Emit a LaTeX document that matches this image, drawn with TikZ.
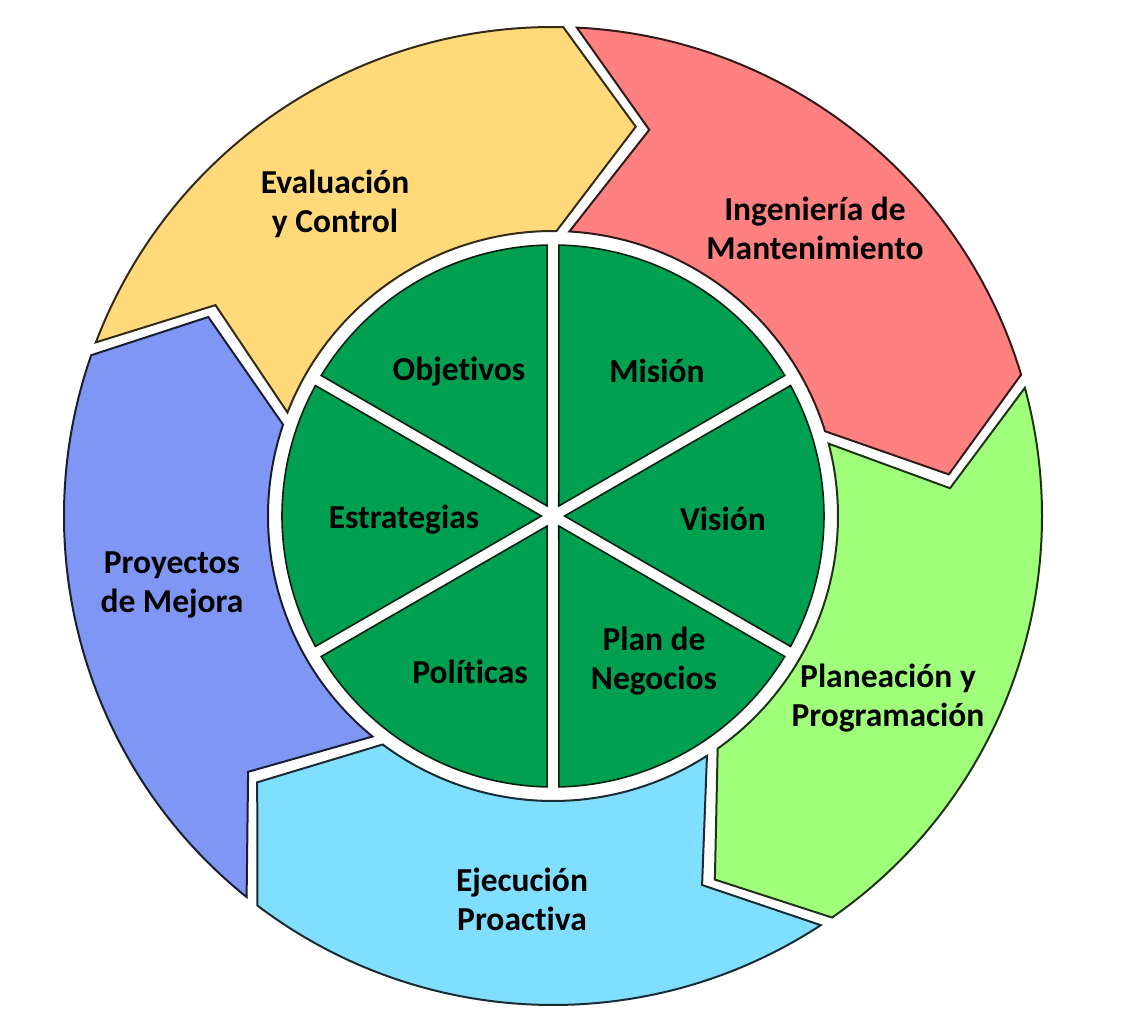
\documentclass[tikz,border=0pt]{standalone}
\usepackage{fontspec}
\setmainfont{Carlito}[Ligatures=NoCommon]
\definecolor{segYellow}{RGB}{255,217,122}
\definecolor{segRed}{RGB}{255,128,128}
\definecolor{segLime}{RGB}{160,255,122}
\definecolor{segCyan}{RGB}{128,222,255}
\definecolor{segBlue}{RGB}{128,150,245}
\definecolor{hubGreen}{RGB}{0,160,80}
\begin{document}
\begin{tikzpicture}[x=1pt,y=1pt,
  segment/.style={line width=2pt},
  wedge/.style={fill=hubGreen, draw=hubGreen!20!black, line width=1.6pt},
  caption/.style={font=\bfseries\fontsize{33.5}{39}\selectfont, align=center, text=black, inner sep=0pt}]
\useasboundingbox (-553,-515) rectangle (577,516);
\fill[white] (-553,-515) rectangle (577,516);

% outer ring: five chevron segments running clockwise
\def\Ro{489}
\def\Ri{285}
\def\Rm{398}
\def\tipoff{11}
\foreach \s/\e/\col in {160/88/segYellow, 88/16/segRed, 16/-56/segLime, -56/-128/segCyan, -128/-200/segBlue}{
  \draw[segment, fill=\col, draw=\col!20!black]
    ({\s-0.8}:\Ro pt) arc[start angle={\s-0.8}, end angle={\e+0.8}, radius=\Ro pt]
    -- ({\e-\tipoff+1.0}:\Rm pt)
    -- ({\e+1.3}:\Ri pt)
    arc[start angle={\e+1.3}, end angle={\s-1.3}, radius=\Ri pt]
    -- ({\s-\tipoff-1.0}:\Rm pt) -- cycle;
}

% inner hub: six green wedges separated by white gaps
\foreach \a in {30,90,150,210,270,330}{
  \draw[wedge] ({\a+30}:11.6pt) -- ({\a+1.23}:271pt)
    arc[start angle={\a+1.23}, end angle={\a+58.77}, radius=271pt] -- cycle;
}

% ring labels
\node[caption] (eval) at (-218,312) {Evaluación\\y Control};
\node[caption] (ing) at (262,288) {Ingeniería de\\Mantenimiento};
\node[caption] (plan) at (335,-182) {Planeación y\\Programación};
\node[caption] (ejec) at (-31,-383) {Ejecución\\Proactiva};
\node[caption] (proy) at (-381,-69) {Proyectos\\de Mejora};

% hub labels
\node[caption] (obj) at (-94,144) {Objetivos};
\node[caption] (mis) at (104,145) {Misión};
\node[caption] (vis) at (170,-3) {Visión};
\node[caption] (neg) at (101,-145) {Plan de\\Negocios};
\node[caption] (pol) at (-83,-156) {Políticas};
\node[caption] (est) at (-149,-4) {Estrategias};
\end{tikzpicture}
\end{document}
